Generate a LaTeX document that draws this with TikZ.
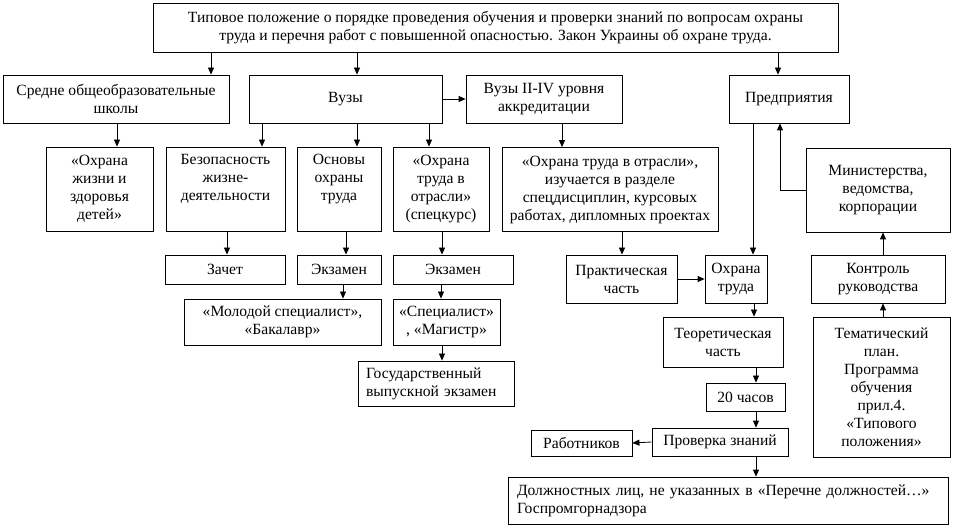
\documentclass[tikz,border=0pt]{standalone}
\usepackage{fontspec}
\setmainfont{Liberation Serif}
\usetikzlibrary{arrows.meta}

\begin{document}
\begin{tikzpicture}[x=1pt, y=-1pt,
	box/.style={draw, line width=0.8pt, align=center, inner sep=0pt, font=\fontsize{15.6}{18}\selectfont},
	arr/.style={line width=0.8pt, -{Triangle[length=7pt, width=6pt]}}]
	\useasboundingbox (0,0) rectangle (953,526);

	\node[box, minimum width=685pt, minimum height=49pt] (top) at (495.5,27.5) {Типовое положение о порядке проведения обучения и проверки знаний по вопросам охраны\\труда и перечня работ с повышенной опасностью. Закон Украины об охране труда.};

	\node[box, minimum width=226pt, minimum height=48pt] (sred) at (116,99) {Средне общеобразовательные\\школы};
	\node[box, minimum width=193pt, minimum height=48pt] (vuzy) at (345.5,99) {Вузы};
	\node[box, minimum width=156pt, minimum height=48pt] (vuz24) at (544,99) {Вузы II-IV уровня\\аккредитации};
	\node[box, minimum width=120pt, minimum height=48pt] (pred) at (789,99) {Предприятия};

	\node[box, minimum width=107pt, minimum height=84pt] (ohrdet) at (99.5,189) {«Охрана\\жизни и\\здоровья\\детей»};
	\node[box, minimum width=119pt, minimum height=84pt] (bzhd) at (225.5,189) {Безопасность\\жизне-\\деятельности\\\strut};
	\node[box, minimum width=84pt, minimum height=84pt] (osnovy) at (339,189) {Основы\\охраны\\труда\\\strut};
	\node[box, minimum width=96pt, minimum height=84pt] (spec) at (441,189) {«Охрана\\труда в\\отрасли»\\(спецкурс)};
	\node[box, minimum width=216pt, minimum height=84pt] (otrasl) at (610,189.5) {«Охрана труда в отрасли»,\\изучается в разделе\\спецдисциплин, курсовых\\работах, дипломных проектах};
	\node[box, minimum width=144pt, minimum height=84pt] (minist) at (878,190) {Министерства,\\ведомства,\\корпорации};

	\node[box, minimum width=120pt, minimum height=29pt] (zachet) at (225,269.5) {Зачет};
	\node[box, minimum width=84pt, minimum height=29pt] (ekz1) at (339,269.5) {Экзамен};
	\node[box, minimum width=120pt, minimum height=29pt] (ekz2) at (453,269.5) {Экзамен};
	\node[box, minimum width=111pt, minimum height=48pt] (prakt) at (621.5,279) {Практическая\\часть};
	\node[box, minimum width=62pt, minimum height=48pt] (ohrtr) at (736,279) {Охрана\\труда};
	\node[box, minimum width=134pt, minimum height=48pt] (kontrol) at (878,279) {Контроль\\руководства};

	\node[box, minimum width=197pt, minimum height=46pt] (molod) at (282.5,322) {«Молодой специалист»,\\«Бакалавр»};
	\node[box, minimum width=107pt, minimum height=46pt] (specmag) at (446.5,322) {«Специалист»\\, «Магистр»};
	\node[box, minimum width=120pt, minimum height=50pt] (teor) at (723,342) {Теоретическая\\часть};
	\node[box, minimum width=137pt, minimum height=140pt] (tema) at (881.5,387) {Тематический\\план.\\Программа\\обучения\\прил.4.\\«Типового\\положения»};

	\node[box, minimum width=156pt, minimum height=45pt, align=left, text width=140pt] (gos) at (436,383.5) {Государственный\\выпускной экзамен};
	\node[box, minimum width=79pt, minimum height=28pt] (chas) at (745.5,397) {20 часов};
	\node[box, minimum width=136pt, minimum height=28pt] (prov) at (720,442) {Проверка знаний};
	\node[box, minimum width=101pt, minimum height=26pt] (rab) at (581.5,443) {Работников};
	\node[box, minimum width=440pt, minimum height=47pt, align=left, text width=422pt] (dolzh) at (728,500.5) {Должностных лиц, не указанных в «Перечне должностей…»\\Госпромгорнадзора};

	\draw[arr] (top.south -| 211,0) -- (sred.north -| 211,0);
	\draw[arr] (top.south -| 357,0) -- (vuzy.north -| 357,0);
	\draw[arr] (top.south -| 778,0) -- (pred.north -| 778,0);
	\draw[arr] (vuzy.east) -- (vuz24.west);
	\draw[arr] (sred.south -| 117,0) -- (ohrdet.north -| 117,0);
	\draw[arr] (vuzy.south -| 262,0) -- (bzhd.north -| 262,0);
	\draw[arr] (vuzy.south -| 357,0) -- (osnovy.north -| 357,0);
	\draw[arr] (vuzy.south -| 429,0) -- (spec.north -| 429,0);
	\draw[arr] (vuz24.south -| 562,0) -- (otrasl.north -| 562,0);
	\draw[arr] (pred.south -| 753,0) -- (ohrtr.north -| 753,0);
	\draw[arr] (minist.west) -| (pred.south -| 780,0);
	\draw[arr] (bzhd.south -| 227,0) -- (zachet.north -| 227,0);
	\draw[arr] (osnovy.south -| 346,0) -- (ekz1.north -| 346,0);
	\draw[arr] (spec.south -| 442,0) -- (ekz2.north -| 442,0);
	\draw[arr] (otrasl.south -| 622,0) -- (prakt.north -| 622,0);
	\draw[arr] (prakt.east) -- (ohrtr.west);
	\draw[arr] (kontrol.north -| 883,0) -- (minist.south -| 883,0);
	\draw[arr] (tema.north -| 883,0) -- (kontrol.south -| 883,0);
	\draw[arr] (ekz1.south -| 343,0) -- (molod.north -| 343,0);
	\draw[arr] (ekz2.south -| 441,0) -- (specmag.north -| 441,0);
	\draw[arr] (specmag.south -| 442,0) -- (gos.north -| 442,0);
	\draw[arr] (ohrtr.south -| 754,0) -- (teor.north -| 754,0);
	\draw[arr] (teor.south -| 756,0) -- (chas.north -| 756,0);
	\draw[arr] (chas.south -| 756,0) -- (prov.north -| 756,0);
	\draw[arr] (prov.south -| 756,0) -- (dolzh.north -| 756,0);
	\draw[arr] (prov.west) -- (rab.east);
\end{tikzpicture}
\end{document}
